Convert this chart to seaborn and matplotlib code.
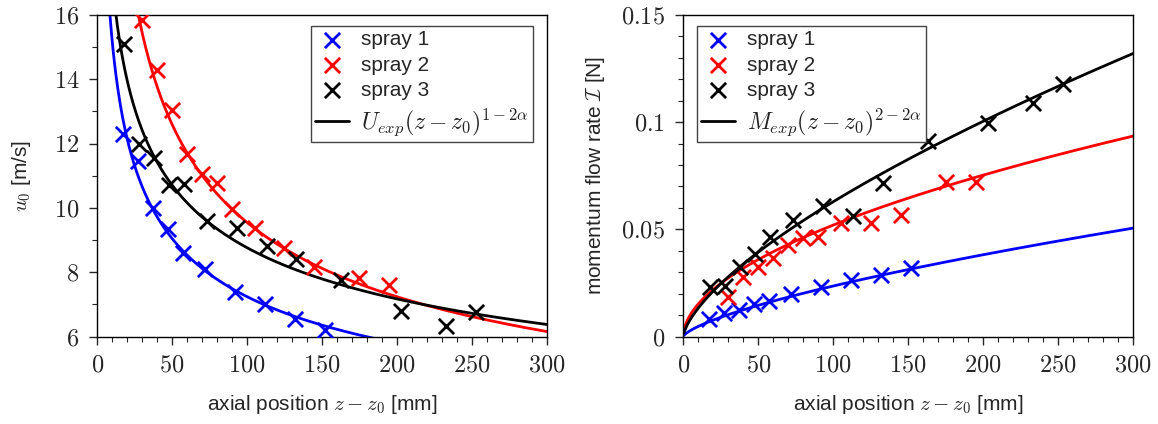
import numpy as np
import pandas as pd
import seaborn as sns
import matplotlib
matplotlib.use('Agg')
import matplotlib.pyplot as plt
from matplotlib.ticker import MultipleLocator, FixedLocator, FixedFormatter

sprays = ['spray 1', 'spray 2', 'spray 3']
colors = ['#0000ff', '#ff0000', '#000000']

z_pos = [
    [17, 27, 37, 47, 57, 72, 92, 112, 132, 152],
    [30, 40, 50, 60, 70, 80, 90, 105, 125, 145, 175, 195],
    [18, 28, 38, 48, 58, 73, 93, 113, 133, 163, 203, 233, 253],
]
u0 = [
    [12.3, 11.45, 10.0, 9.35, 8.6, 8.1, 7.4, 7.0, 6.55, 6.2],
    [15.83, 14.28, 13.04, 11.67, 11.05, 10.78, 9.96, 9.37, 8.75, 8.16, 7.83, 7.6],
    [15.09, 11.98, 11.54, 10.71, 10.74, 9.6, 9.39, 8.82, 8.4, 7.76, 6.81, 6.33, 6.78],
]
mom = [
    [0.0081, 0.0109, 0.0124, 0.0152, 0.0168, 0.0199, 0.0233, 0.0264, 0.0287, 0.0319],
    [0.0186, 0.028, 0.0326, 0.0365, 0.0427, 0.0458, 0.0466, 0.0531, 0.0528, 0.0567, 0.0722, 0.0722],
    [0.0233, 0.0236, 0.0326, 0.0385, 0.0466, 0.0544, 0.0609, 0.0562, 0.0715, 0.0913, 0.0997, 0.1087, 0.1177],
]

# power law fits: value at z = 300 mm and exponent
u_at_300 = [5.09, 6.16, 6.38]
u_exponent = [-0.321, -0.399, -0.289]
mom_at_300 = [0.0506, 0.0935, 0.132]
mom_exponent = [0.694, 0.534, 0.675]

rows = []
for name, zs, us, ms in zip(sprays, z_pos, u0, mom):
    for z, u, m in zip(zs, us, ms):
        rows.append([name, z, u, m])
data = pd.DataFrame(rows, columns=['spray', 'z', 'u0', 'mom'])

z_fit = np.linspace(0.5, 300, 600)

sns.set_style('ticks')
plt.rcParams['font.family'] = ['Liberation Sans', 'DejaVu Sans']
plt.rcParams['mathtext.fontset'] = 'cm'

fig = plt.figure(figsize=(11.58, 4.24), dpi=100)
ax1 = fig.add_axes([0.084, 0.206, 0.388, 0.759])
ax2 = fig.add_axes([0.590, 0.206, 0.3886, 0.759])

for ax, col, vals, pw, lab in [
        (ax1, 'u0', u_at_300, u_exponent, r'$U_{exp}(z-z_0)^{1-2\alpha}$'),
        (ax2, 'mom', mom_at_300, mom_exponent, r'$M_{exp}(z-z_0)^{2-2\alpha}$')]:
    for name, c in zip(sprays, colors):
        d = data[data['spray'] == name]
        sns.scatterplot(x=d['z'], y=d[col], ax=ax, marker='x', s=120,
                        linewidth=2, color=c, label=name, zorder=3)
    for i, c in enumerate(colors):
        curve = vals[i] * (z_fit / 300.0) ** pw[i]
        sns.lineplot(x=z_fit, y=curve, ax=ax, color=c, lw=2,
                     label=lab if i == 2 else None, legend=False, zorder=2)

ax1.set_xlim(0, 300)
ax1.set_ylim(6, 16)
ax2.set_xlim(0, 300)
ax2.set_ylim(0, 0.15)

xt = [0, 50, 100, 150, 200, 250, 300]
for ax in (ax1, ax2):
    ax.xaxis.set_major_locator(FixedLocator(xt))
    ax.xaxis.set_major_formatter(FixedFormatter(['$%d$' % v for v in xt]))
    ax.xaxis.set_minor_locator(MultipleLocator(10))
    ax.tick_params(which='major', direction='out', length=6, width=1, pad=7, labelsize=17.5,
                   top=False, right=False)
    ax.tick_params(which='minor', direction='out', length=3.5, width=0.8, top=False, right=False)
    for s in ax.spines.values():
        s.set_linewidth(1)
        s.set_color('black')
    ax.set_xlabel(r'axial position $z - z_0$ [mm]', fontsize=15, labelpad=12)

yt = [6, 8, 10, 12, 14, 16]
ax1.yaxis.set_major_locator(FixedLocator(yt))
ax1.yaxis.set_major_formatter(FixedFormatter(['$%d$' % v for v in yt]))
ax1.yaxis.set_minor_locator(MultipleLocator(1))
ax1.set_ylabel(r'$u_0$ [m/s]', fontsize=15, labelpad=15)

ax2.yaxis.set_major_locator(FixedLocator([0, 0.05, 0.1, 0.15]))
ax2.yaxis.set_major_formatter(FixedFormatter(['$0$', '$0.05$', '$0.1$', '$0.15$']))
ax2.yaxis.set_minor_locator(MultipleLocator(0.01))
ax2.set_ylabel(r'momentum flow rate $\mathcal{I}$ [N]', fontsize=15, labelpad=10)

leg_kw = dict(fontsize=15, fancybox=False, framealpha=1, edgecolor='#444444',
              borderaxespad=0, labelspacing=0.3, handlelength=1.6, handletextpad=0.6,
              borderpad=0.2, scatterpoints=1)
leg1 = ax1.legend(loc='upper right', bbox_to_anchor=(0.970, 0.965), **leg_kw)
leg2 = ax2.legend(loc='upper left', bbox_to_anchor=(0.031, 0.965), **leg_kw)
for leg in (leg1, leg2):
    leg.get_frame().set_linewidth(1)
    leg.get_texts()[3].set_fontsize(17)
    leg.get_texts()[3].set_color('#222222')

fig.savefig('out.png', dpi=100)
